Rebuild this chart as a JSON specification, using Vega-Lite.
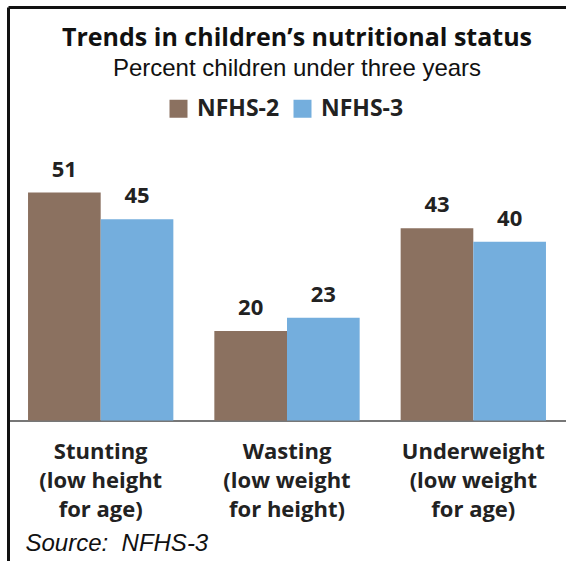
{
  "$schema": "https://vega.github.io/schema/vega-lite/v6.json",
  "width": 558,
  "height": 554,
  "autosize": {"type": "none"},
  "padding": {"left": 8, "top": 7, "right": 0, "bottom": 0},
  "background": "white",
  "config": {"view": {"stroke": null}},
  "title": {
    "text": "Trends in children’s nutritional status",
    "subtitle": "Percent children under three years",
    "anchor": "middle",
    "frame": "group",
    "offset": -74,
    "dx": 10,
    "font": "Open Sans",
    "fontSize": 25,
    "fontWeight": "bold",
    "color": "#111111",
    "subtitleFont": "Liberation Sans",
    "subtitleFontSize": 24,
    "subtitleColor": "#111111",
    "subtitlePadding": 6
  },
  "data": {
    "values": [
      {"indicator": "Stunting\n(low height\nfor age)", "survey": "NFHS-2", "percent": 51},
      {"indicator": "Stunting\n(low height\nfor age)", "survey": "NFHS-3", "percent": 45},
      {"indicator": "Wasting\n(low weight\nfor height)", "survey": "NFHS-2", "percent": 20},
      {"indicator": "Wasting\n(low weight\nfor height)", "survey": "NFHS-3", "percent": 23},
      {"indicator": "Underweight\n(low weight\nfor age)", "survey": "NFHS-2", "percent": 43},
      {"indicator": "Underweight\n(low weight\nfor age)", "survey": "NFHS-3", "percent": 40}
    ]
  },
  "encoding": {
    "x": {
      "field": "indicator",
      "type": "nominal",
      "sort": null,
      "scale": {"paddingInner": 0.22, "paddingOuter": 0.1075}
    },
    "xOffset": {
      "field": "survey",
      "type": "nominal",
      "scale": {"paddingInner": 0, "paddingOuter": 0}
    },
    "y": {
      "field": "percent",
      "type": "quantitative",
      "scale": {"domain": [-31.43, 92.5], "nice": false, "zero": false},
      "axis": {
        "orient": "left",
        "domainColor": "#111111",
        "domainWidth": 3,
        "ticks": false,
        "labels": false,
        "grid": false,
        "title": null
      }
    }
  },
  "layer": [
    {
      "mark": {"type": "bar"},
      "encoding": {
        "x": {
          "field": "indicator",
          "type": "nominal",
          "sort": null,
          "axis": {
            "orient": "bottom",
            "offset": -140.5,
            "domainColor": "#777777",
            "domainWidth": 2,
            "ticks": false,
            "labelAngle": 0,
            "labelFont": "Open Sans",
            "labelFontWeight": "bold",
            "labelFontSize": 22,
            "labelColor": "#222222",
            "labelBaseline": "top",
            "labelPadding": 21,
            "labelLineHeight": 29,
            "labelOverlap": false,
            "labelBound": false,
            "labelExpr": "split(datum.label, '\\n')",
            "title": "Source:\u00a0 NFHS-3",
            "titleFont": "Liberation Sans",
            "titleFontStyle": "italic",
            "titleFontWeight": "normal",
            "titleFontSize": 24,
            "titleColor": "#111111",
            "titleAnchor": "start",
            "titleAlign": "left",
            "titleBaseline": "alphabetic",
            "titleX": 17,
            "titleY": 130
          }
        },
        "y2": {"datum": 0},
        "color": {
          "field": "survey",
          "type": "nominal",
          "scale": {"domain": ["NFHS-2", "NFHS-3"], "range": ["#8B7160", "#74AEDD"]},
          "legend": {
            "orient": "none",
            "legendX": 159,
            "legendY": 90,
            "direction": "horizontal",
            "title": null,
            "padding": 0,
            "symbolType": "square",
            "symbolSize": 324,
            "symbolStrokeWidth": 0,
            "symbolOpacity": 1,
            "labelFont": "Open Sans",
            "labelFontWeight": "bold",
            "labelFontSize": 23,
            "labelColor": "#222222",
            "labelOffset": 7,
            "columnPadding": 11
          }
        }
      }
    },
    {
      "mark": {
        "type": "text",
        "baseline": "alphabetic",
        "dy": -16,
        "font": "Open Sans",
        "fontWeight": "bold",
        "fontSize": 22,
        "color": "#222222"
      },
      "encoding": {
        "x": {
          "field": "indicator",
          "type": "nominal",
          "sort": null,
          "axis": {
            "orient": "top",
            "domainColor": "#111111",
            "domainWidth": 3,
            "ticks": false,
            "labels": false,
            "title": null
          }
        },
        "text": {"field": "percent", "type": "quantitative"}
      }
    }
  ]
}
